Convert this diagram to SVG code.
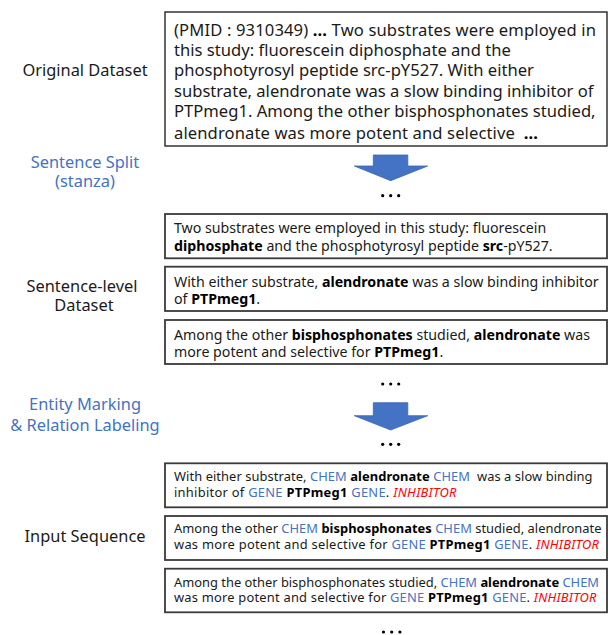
<svg xmlns="http://www.w3.org/2000/svg" width="608" height="635" viewBox="0 0 608 635">
<style>
text{font-family:"Noto Sans","Liberation Sans",sans-serif;white-space:pre;fill:#1a1a1a}
.lbl{font-size:16.4px;text-anchor:middle}
.blu{fill:#4472C4}
.t16{font-size:16.6px}
.t14{font-size:14.2px}
.t13{font-size:12.9px}
.b{font-weight:bold;fill:#000}
.c{fill:#4472C4}
.r{fill:#FF0000;font-style:italic}
.box1{fill:#fff;stroke:#262626;stroke-width:1.4}
.box{fill:#fff;stroke:#3a3a3a;stroke-width:1.8}
.arr{fill:#4472C4;stroke:#3c67b3;stroke-width:0.8}
.dot{fill:#000}
</style>
<g id="labels">
<text class="lbl" x="85" y="76">Original Dataset</text>
<text class="lbl blu" x="85" y="167.5">Sentence Split</text>
<text class="lbl blu" x="85" y="186.5">(stanza)</text>
<text class="lbl" x="82" y="291.5">Sentence-level</text>
<text class="lbl" x="84" y="310.5">Dataset</text>
<text class="lbl blu" x="85" y="410">Entity Marking</text>
<text class="lbl blu" x="85" y="430.5">&amp; Relation Labeling</text>
<text class="lbl" x="85" y="541.5">Input Sequence</text>
</g>
<g id="original">
<rect class="box1" x="165" y="12" width="442" height="134"/>
<text class="t16" x="174" y="35.5" textLength="422" lengthAdjust="spacing">(PMID : 9310349) <tspan class="b">...</tspan> Two substrates were employed in</text>
<text class="t16" x="174" y="55.5">this study: fluorescein diphosphate and the</text>
<text class="t16" x="174" y="76">phosphotyrosyl peptide src-pY527. With either</text>
<text class="t16" x="174" y="96.5">substrate, alendronate was a slow binding inhibitor of</text>
<text class="t16" x="174" y="117">PTPmeg1. Among the other bisphosphonates studied,</text>
<text class="t16" x="174" y="139" textLength="364" lengthAdjust="spacing">alendronate was more potent and selective  <tspan class="b">...</tspan></text>
</g>
<g id="connectors">
<polygon class="arr" points="373.3,155 407.8,155 407.8,166 427.7,166 390.7,180.7 354.3,166 373.3,166"/>
<polygon class="arr" points="373.3,402.7 407.8,402.7 407.8,415.7 427.7,415.7 390.7,430 354.3,415.7 373.3,415.7"/>
<g class="dot">
<circle cx="382.7" cy="195.7" r="1.6"/><circle cx="390.7" cy="195.7" r="1.6"/><circle cx="398.7" cy="195.7" r="1.6"/>
<circle cx="382.7" cy="384" r="1.6"/><circle cx="390.7" cy="384" r="1.6"/><circle cx="398.7" cy="384" r="1.6"/>
<circle cx="382.7" cy="444.3" r="1.6"/><circle cx="390.7" cy="444.3" r="1.6"/><circle cx="398.7" cy="444.3" r="1.6"/>
<circle cx="383.5" cy="632" r="1.6"/><circle cx="391.7" cy="632" r="1.6"/><circle cx="399.9" cy="632" r="1.6"/>
</g>
</g>
<g id="sent1">
<rect class="box" x="165" y="214" width="442" height="44.3"/>
<text class="t14" x="174" y="233">Two substrates were employed in this study: fluorescein</text>
<text class="t14" x="174" y="250.7"><tspan class="b">diphosphate</tspan> and the phosphotyrosyl peptide <tspan class="b">src</tspan>-pY527.</text>
</g>
<g id="sent2">
<rect class="box" x="165" y="266.7" width="442" height="44.3"/>
<text class="t14" x="174" y="287.3">With either substrate, <tspan class="b">alendronate</tspan> was a slow binding inhibitor</text>
<text class="t14" x="174" y="304">of <tspan class="b">PTPmeg1</tspan>.</text>
</g>
<g id="sent3">
<rect class="box" x="165" y="320" width="442" height="44"/>
<text class="t14" x="174" y="340">Among the other <tspan class="b">bisphosphonates</tspan> studied, <tspan class="b">alendronate</tspan> was</text>
<text class="t14" x="174" y="356.7">more potent and selective for <tspan class="b">PTPmeg1</tspan>.</text>
</g>
<g id="input1">
<rect class="box" x="165" y="463.3" width="442" height="44"/>
<text class="t13" x="174" y="481" textLength="418.5" lengthAdjust="spacing">With either substrate, <tspan class="c">CHEM</tspan> <tspan class="b">alendronate</tspan> <tspan class="c">CHEM</tspan>  was a slow binding</text>
<text class="t13" x="174" y="496.7" textLength="282.5" lengthAdjust="spacing">inhibitor of <tspan class="c">GENE</tspan> <tspan class="b">PTPmeg1</tspan> <tspan class="c">GENE</tspan>. <tspan class="r">INHIBITOR</tspan></text>
</g>
<g id="input2">
<rect class="box" x="165" y="516" width="442" height="44"/>
<text class="t13" x="174" y="533.3" textLength="427.5" lengthAdjust="spacing">Among the other <tspan class="c">CHEM</tspan> <tspan class="b">bisphosphonates</tspan> <tspan class="c">CHEM</tspan> studied, alendronate</text>
<text class="t13" x="174" y="549" textLength="425" lengthAdjust="spacing">was more potent and selective for <tspan class="c">GENE</tspan> <tspan class="b">PTPmeg1</tspan> <tspan class="c">GENE</tspan>. <tspan class="r">INHIBITOR</tspan></text>
</g>
<g id="input3">
<rect class="box" x="165" y="568.7" width="442" height="43.6"/>
<text class="t13" x="174" y="586.7" textLength="425" lengthAdjust="spacing">Among the other bisphosphonates studied, <tspan class="c">CHEM</tspan><tspan class="b"> alendronate</tspan> <tspan class="c">CHEM</tspan></text>
<text class="t13" x="174" y="601.7" textLength="422.5" lengthAdjust="spacing">was more potent and selective for <tspan class="c">GENE</tspan><tspan class="b"> PTPmeg1</tspan> <tspan class="c">GENE</tspan>. <tspan class="r">INHIBITOR</tspan></text>
</g>
</svg>
